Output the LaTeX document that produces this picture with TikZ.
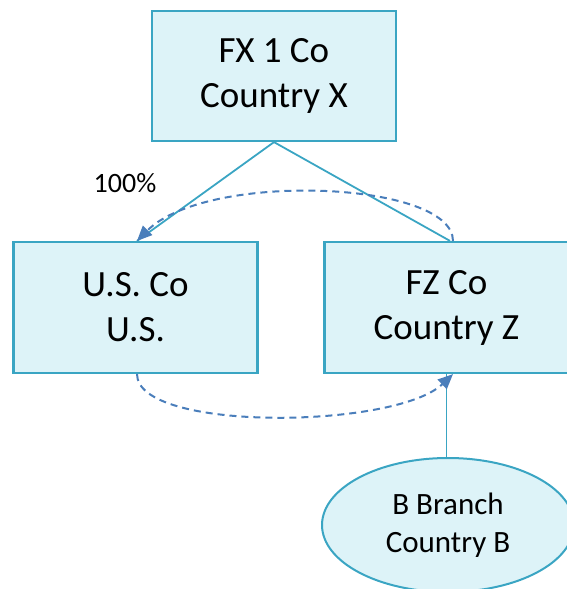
\documentclass[tikz,border=0pt]{standalone}
\usepackage{fontspec}
\setmainfont{Carlito}
\usepackage{tikz}
\usetikzlibrary{shapes.geometric,arrows.meta}
\definecolor{boxfill}{HTML}{DDF3F8}
\definecolor{boxline}{HTML}{3AA5C3}
\definecolor{loopline}{HTML}{4A7EBB}
\tikzset{entity/.style={draw=boxline,fill=boxfill,line width=2.2pt,minimum width=244pt,minimum height=131pt,align=center,inner sep=0pt,font=\fontsize{37}{45}\selectfont}}
\tikzset{branchoval/.style={ellipse,draw=boxline,fill=boxfill,line width=2pt,minimum width=252pt,minimum height=134pt,align=center,inner sep=0pt,font=\fontsize{31}{38}\selectfont}}
\tikzset{owns/.style={draw=boxline,line width=1.8pt}}
\tikzset{flow/.style={draw=loopline,line width=2pt,dash pattern=on 7pt off 5pt,-{Triangle[length=15pt,width=13pt]}}}

\begin{document}
\begin{tikzpicture}[x=1pt,y=-1pt]
			\useasboundingbox (0,0) rectangle (566,589);
			\node[entity,minimum height=130pt] (fxco) at (274,76) {FX 1 Co\\Country X};
			\node[entity] (usco) at (135.5,307.5) {U.S. Co\\U.S.};
			\node[entity] (fzco) at (446.5,307.5) {FZ Co\\Country Z};
			\node[branchoval] (bbranch) at (448,525) {B Branch\\Country B};
			\node[font=\fontsize{28}{34}\selectfont] (share) at (125,183) {100\%};
			\draw[owns] (fxco.south) -- ([xshift=1.5pt]usco.north);
			\draw[owns] (fxco.south) -- ([xshift=3.5pt]fzco.north);
			\draw[owns] (fzco.south) -- (fzco.south |- bbranch.north);
			\draw[flow] ([xshift=6.5pt]fzco.north) .. controls +(0,-60) and +(70,-70) .. ([xshift=1.5pt]usco.north);
			\draw[flow] ([xshift=1.5pt]usco.south) .. controls +(0,58) and +(-58,55) .. ([xshift=6.5pt]fzco.south);
\end{tikzpicture}
\end{document}
